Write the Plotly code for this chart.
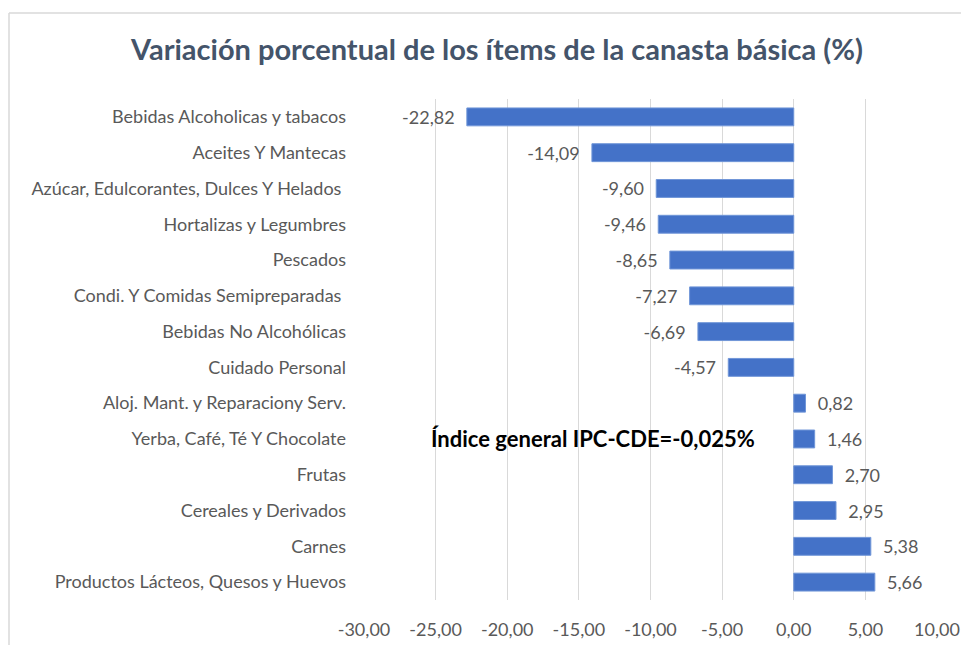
import plotly.graph_objects as go

categories = [
    "Bebidas Alcoholicas y tabacos",
    "Aceites Y Mantecas",
    "Azúcar, Edulcorantes, Dulces Y Helados ",
    "Hortalizas y Legumbres",
    "Pescados",
    "Condi. Y Comidas Semipreparadas ",
    "Bebidas No Alcohólicas",
    "Cuidado Personal",
    "Aloj. Mant. y Reparaciony Serv.",
    "Yerba, Café, Té Y Chocolate",
    "Frutas",
    "Cereales y Derivados",
    "Carnes",
    "Productos Lácteos, Quesos y Huevos",
]
values = [-22.82, -14.09, -9.60, -9.46, -8.65, -7.27, -6.69, -4.57,
          0.82, 1.46, 2.70, 2.95, 5.38, 5.66]
x_ticks = [-30, -25, -20, -15, -10, -5, 0, 5, 10]

title_text = "Variación porcentual de los ítems de la canasta básica (%)"
note_text = "Índice general IPC-CDE=-0,025%"

FONT = "Lato"
GREY = "#595959"


def fmt(v):
    return f"{v:.2f}".replace(".", ",")


pad = "\u00a0\u00a0"
bar_text = [(fmt(v) + pad) if v < 0 else (pad + fmt(v)) for v in values]
tick_text = [fmt(v) for v in x_ticks]

fig = go.Figure(go.Bar(
    x=values, y=categories, orientation="h",
    marker=dict(color="#4472C8", line=dict(color="#7096D8", width=1)),
    text=bar_text, textposition="outside", constraintext="none",
    textfont=dict(family=FONT, size=18, color=GREY),
    cliponaxis=False, width=0.5,
))

# page has 8px body margin; figure placed at (8, 8)
W, H = 961, 637
ml, mr, mt, mb = 356, 32, 91, 45
pw, ph = W - ml - mr, H - mt - mb


def px_x(p):
    return (p - ml) / pw


def px_y(p):
    return (H - mb - p) / ph


fig.update_layout(
    width=W, height=H,
    margin=dict(l=ml, r=mr, t=mt, b=mb, autoexpand=False),
    paper_bgcolor="white", plot_bgcolor="white",
    showlegend=False,
    title=dict(text=title_text, x=(497 - 8) / W, xanchor="center", y=1 - 42 / H, yanchor="middle",
               font=dict(family=FONT, size=29, color="#44546A", weight="bold")),
    xaxis=dict(range=[-30, 10], tickvals=x_ticks, ticktext=tick_text, automargin=False,
               showgrid=True, gridcolor="#D9D9D9", gridwidth=1,
               zeroline=True, zerolinecolor="#D9D9D9", zerolinewidth=1,
               showline=False, ticks="", ticklabelstandoff=17,
               tickfont=dict(family=FONT, size=18, color=GREY)),
    yaxis=dict(autorange="reversed", showgrid=False, showline=False, ticks="",
               ticklabelstandoff=17, automargin=False,
               tickfont=dict(family=FONT, size=18, color=GREY)),
    annotations=[dict(text=note_text, xref="x", yref="y", x=-14.0, y=categories[9],
                      xanchor="center", yanchor="middle", showarrow=False,
                      font=dict(family=FONT, size=22, color="black", weight="bold"))],
    shapes=[
        dict(type="line", xref="paper", yref="paper", x0=px_x(1), x1=px_x(1),
             y0=px_y(5), y1=px_y(H + 5), line=dict(color="#D9D9D9", width=1.5)),
        dict(type="line", xref="paper", yref="paper", x0=px_x(1), x1=px_x(W + 5),
             y0=px_y(5), y1=px_y(5), line=dict(color="#D9D9D9", width=1.5)),
    ],
)

fig.write_html("out.html")
